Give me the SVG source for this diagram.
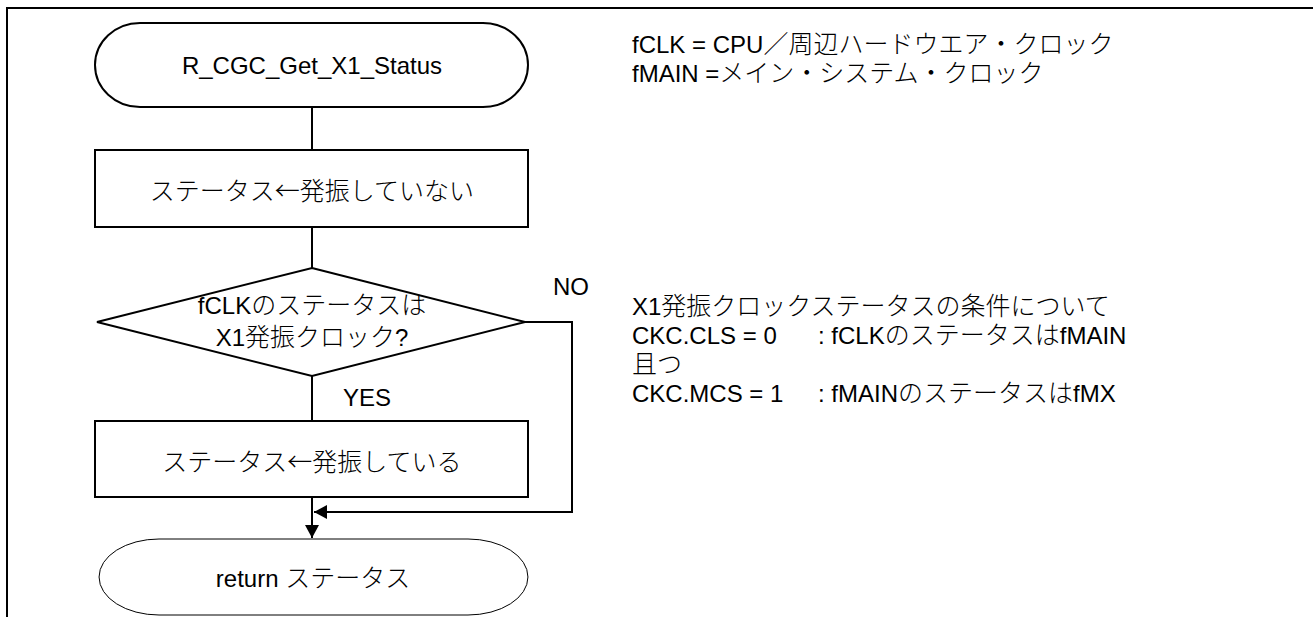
<svg xmlns="http://www.w3.org/2000/svg" width="1313" height="617" viewBox="0 0 1313 617">
<style>
text{font-family:"Liberation Sans","Noto Sans CJK JP",sans-serif;font-size:24px;fill:#000}
.j{font-family:"Noto Sans CJK JP",sans-serif;font-size:25px;font-weight:300}
.m{text-anchor:middle}
.s{fill:#fff;stroke:#000;stroke-width:2}
.t{fill:#fff;stroke:#000;stroke-width:1}
.c{fill:none;stroke:#000;stroke-width:2}
</style>
<defs>
<marker id="ah" markerUnits="userSpaceOnUse" markerWidth="14" markerHeight="14" refX="13" refY="7" orient="auto">
<path d="M0,0 L13,7 L0,14 Z" fill="#000"/>
</marker>
</defs>
<g id="frame">
<path d="M7,617 V8 H1313" fill="none" stroke="#000" stroke-width="2"/>
</g>
<g id="connectors">
<path class="c" d="M312,107 V150"/>
<path class="c" d="M312,227 V268"/>
<path class="c" d="M312,376 V421"/>
<path class="c" d="M312,497 V538" marker-end="url(#ah)"/>
<path class="c" d="M525,322 H572 V512 H314" marker-end="url(#ah)"/>
<text x="343" y="406">YES</text>
<text x="553" y="295">NO</text>
</g>
<g id="start">
<path class="s" d="M140,23 H483 A45,42 0 0 1 483,107 H140 A45,42 0 0 1 140,23 Z"/>
<text class="m" x="312" y="74">R_CGC_Get_X1_Status</text>
</g>
<g id="init">
<rect class="s" x="95" y="150" width="433" height="77"/>
<text class="m j" x="312" y="200">ステータス←発振していない</text>
</g>
<g id="decision">
<path class="s" d="M312,268 L525,322 L312,376 L97,322 Z"/>
<text class="m" x="312" y="314">fCLK<tspan class="j">のステータスは</tspan></text>
<text class="m" x="312" y="346">X1<tspan class="j">発振クロック</tspan>?</text>
</g>
<g id="set">
<rect class="s" x="95" y="421" width="433" height="76"/>
<text class="m j" x="312" y="471">ステータス←発振している</text>
</g>
<g id="end">
<path class="t" d="M159,539 H468 A60,38 0 0 1 468,615 H159 A60,38 0 0 1 159,539 Z"/>
<text class="m" x="313" y="587">return <tspan class="j">ステータス</tspan></text>
</g>
<g id="notes">
<text x="632" y="53">fCLK = CPU<tspan class="j">／周辺ハードウエア・クロック</tspan></text>
<text x="632" y="82">fMAIN =<tspan class="j">メイン・システム・クロック</tspan></text>
<text x="632" y="315">X1<tspan class="j">発振クロックステータスの条件について</tspan></text>
<text x="632" y="344">CKC.CLS = 0<tspan x="818">: fCLK</tspan><tspan class="j">のステータスは</tspan>fMAIN</text>
<text x="632" y="373" class="j">且つ</text>
<text x="632" y="402">CKC.MCS = 1<tspan x="818">: fMAIN</tspan><tspan class="j">のステータスは</tspan>fMX</text>
</g>
</svg>
